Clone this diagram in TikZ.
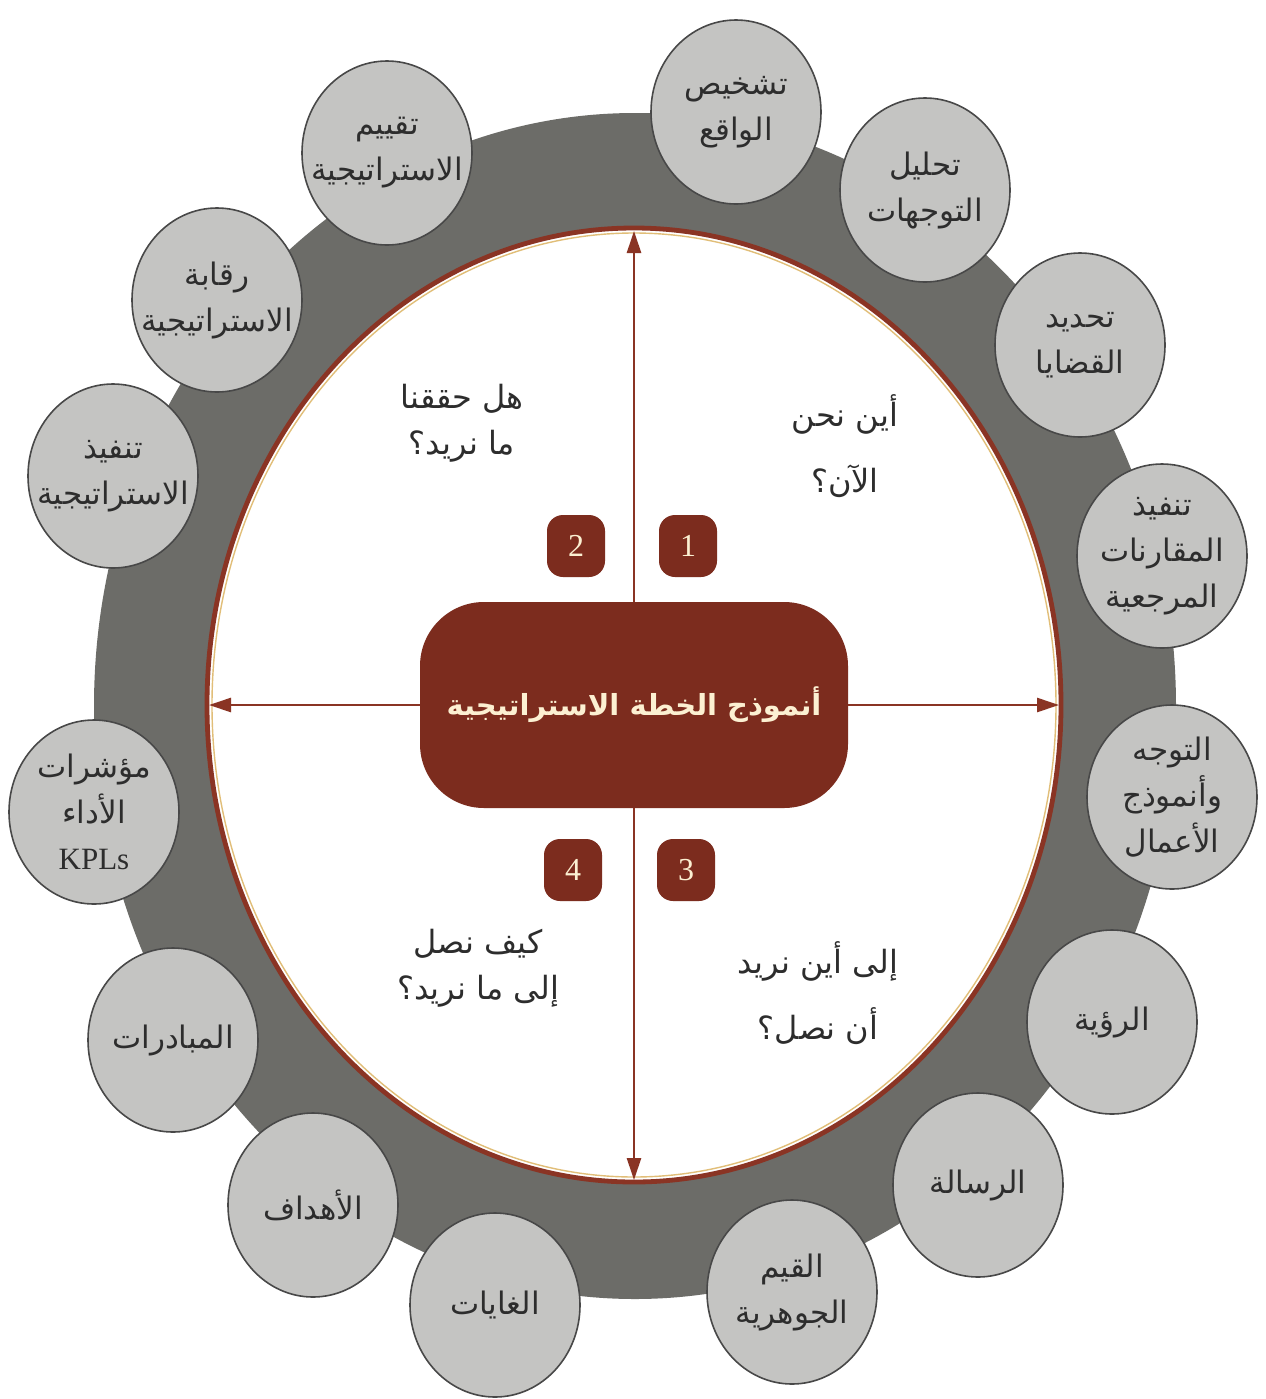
\documentclass[tikz,border=0pt]{standalone}
\usepackage{fontspec}
\usetikzlibrary{arrows.meta,shapes.geometric}
\TeXXeTstate=1
\newfontfamily\arabicfont[Script=Arabic]{DejaVu Sans}
\newfontfamily\latinserif{Liberation Serif}
\newcommand{\ar}[1]{{\arabicfont\beginR #1\endR}}
\newcommand{\bubblenode}[3]{\node[bubble] (#1) at (#2) {}; \node[btext] (#1t) at (#1) {#3};}
\definecolor{ringgray}{RGB}{108,108,104}
\definecolor{bubblefill}{RGB}{196,196,194}
\definecolor{bubbleline}{RGB}{72,72,72}
\definecolor{corebrown}{RGB}{124,44,30}
\definecolor{linebrown}{RGB}{138,52,36}
\definecolor{cream}{RGB}{252,240,210}
\definecolor{goldedge}{RGB}{225,190,120}
\definecolor{inktext}{RGB}{45,45,45}
\begin{document}
\begin{tikzpicture}[x=0.5pt,y=-0.5pt,
  bubble/.style={ellipse, fill=bubblefill, draw=bubbleline, line width=0.8pt, minimum width=85pt, minimum height=92pt, inner sep=0pt},
  btext/.style={align=center, text=inktext, font=\fontsize{15.5}{23}\selectfont, inner sep=0pt},
  qtext/.style={align=center, text=inktext, inner sep=0pt},
  numbox/.style={rectangle, rounded corners=8pt, fill=corebrown, minimum width=29pt, minimum height=31pt, inner sep=0pt, text=cream, font=\latinserif\fontsize{16}{16}\selectfont},
  conn/.style={draw=linebrown, line width=1.3pt, -{Triangle[length=11pt,width=7pt]}},
]
\useasboundingbox (0,0) rectangle (1265,1399);
\fill[white] (0,0) rectangle (1265,1399);
\fill[ringgray] (635,706) ellipse [x radius=541, y radius=593];
\draw[linebrown, line width=2.4pt, fill=white] (634,705) ellipse [x radius=427, y radius=477];
\draw[goldedge, line width=0.7pt] (634,705) ellipse [x radius=422, y radius=472];

\bubblenode{b1}{736,112}{\ar{تشخيص}\\\ar{الواقع}}
\bubblenode{b2}{925,190}{\ar{تحليل}\\\ar{التوجهات}}
\bubblenode{b3}{1080,345}{\ar{تحديد}\\\ar{القضايا}}
\bubblenode{b4}{1162,556}{\ar{تنفيذ}\\\ar{المقارنات}\\\ar{المرجعية}}
\bubblenode{b5}{1172,797}{\ar{التوجه}\\\ar{وأنموذج}\\\ar{الأعمال}}
\bubblenode{b6}{1112,1022}{\ar{الرؤية}}
\bubblenode{b7}{978,1185}{\ar{الرسالة}}
\bubblenode{b8}{792,1292}{\ar{القيم}\\\ar{الجوهرية}}
\bubblenode{b9}{495,1305}{\ar{الغايات}}
\bubblenode{b10}{313,1205}{\ar{الأهداف}}
\bubblenode{b11}{173,1040}{\ar{المبادرات}}
\bubblenode{b12}{94,812}{\ar{مؤشرات}\\\ar{الأداء}\\{\latinserif KPLs}}
\bubblenode{b13}{113,476}{\ar{تنفيذ}\\\ar{الاستراتيجية}}
\bubblenode{b14}{217,300}{\ar{رقابة}\\\ar{الاستراتيجية}}
\bubblenode{b15}{387,153}{\ar{تقييم}\\\ar{الاستراتيجية}}

\node[rectangle, rounded corners=32pt, fill=corebrown, minimum width=214pt, minimum height=103pt, text=cream, font=\fontsize{14.5}{14.5}\selectfont\bfseries] (core) at (634,705) {\ar{أنموذج الخطة الاستراتيجية}};

\coordinate (ptop) at (634,231);
\coordinate (pbot) at (634,1180);
\coordinate (pleft) at (209,705);
\coordinate (pright) at (1059,705);
\draw[conn] (core.north) -- (ptop);
\draw[conn] (core.south) -- (pbot);
\draw[conn] (core.west) -- (pleft);
\draw[conn] (core.east) -- (pright);

\node[numbox] (n1) at (688,546) {1};
\node[numbox] (n2) at (576,546) {2};
\node[numbox] (n3) at (686,870) {3};
\node[numbox] (n4) at (573,870) {4};

\node[qtext, font=\fontsize{16}{33}\selectfont] (q1) at (845,446) {\ar{أين نحن}\\\ar{الآن؟}};
\node[qtext, font=\fontsize{16}{23}\selectfont] (q2) at (462,423) {\ar{هل حققنا}\\\ar{ما نريد؟}};
\node[qtext, font=\fontsize{16}{33}\selectfont] (q3) at (818,993) {\ar{إلى أين نريد}\\\ar{أن نصل؟}};
\node[qtext, font=\fontsize{16}{23}\selectfont] (q4) at (478,968) {\ar{كيف نصل}\\\ar{إلى ما نريد؟}};
\end{tikzpicture}
\end{document}
